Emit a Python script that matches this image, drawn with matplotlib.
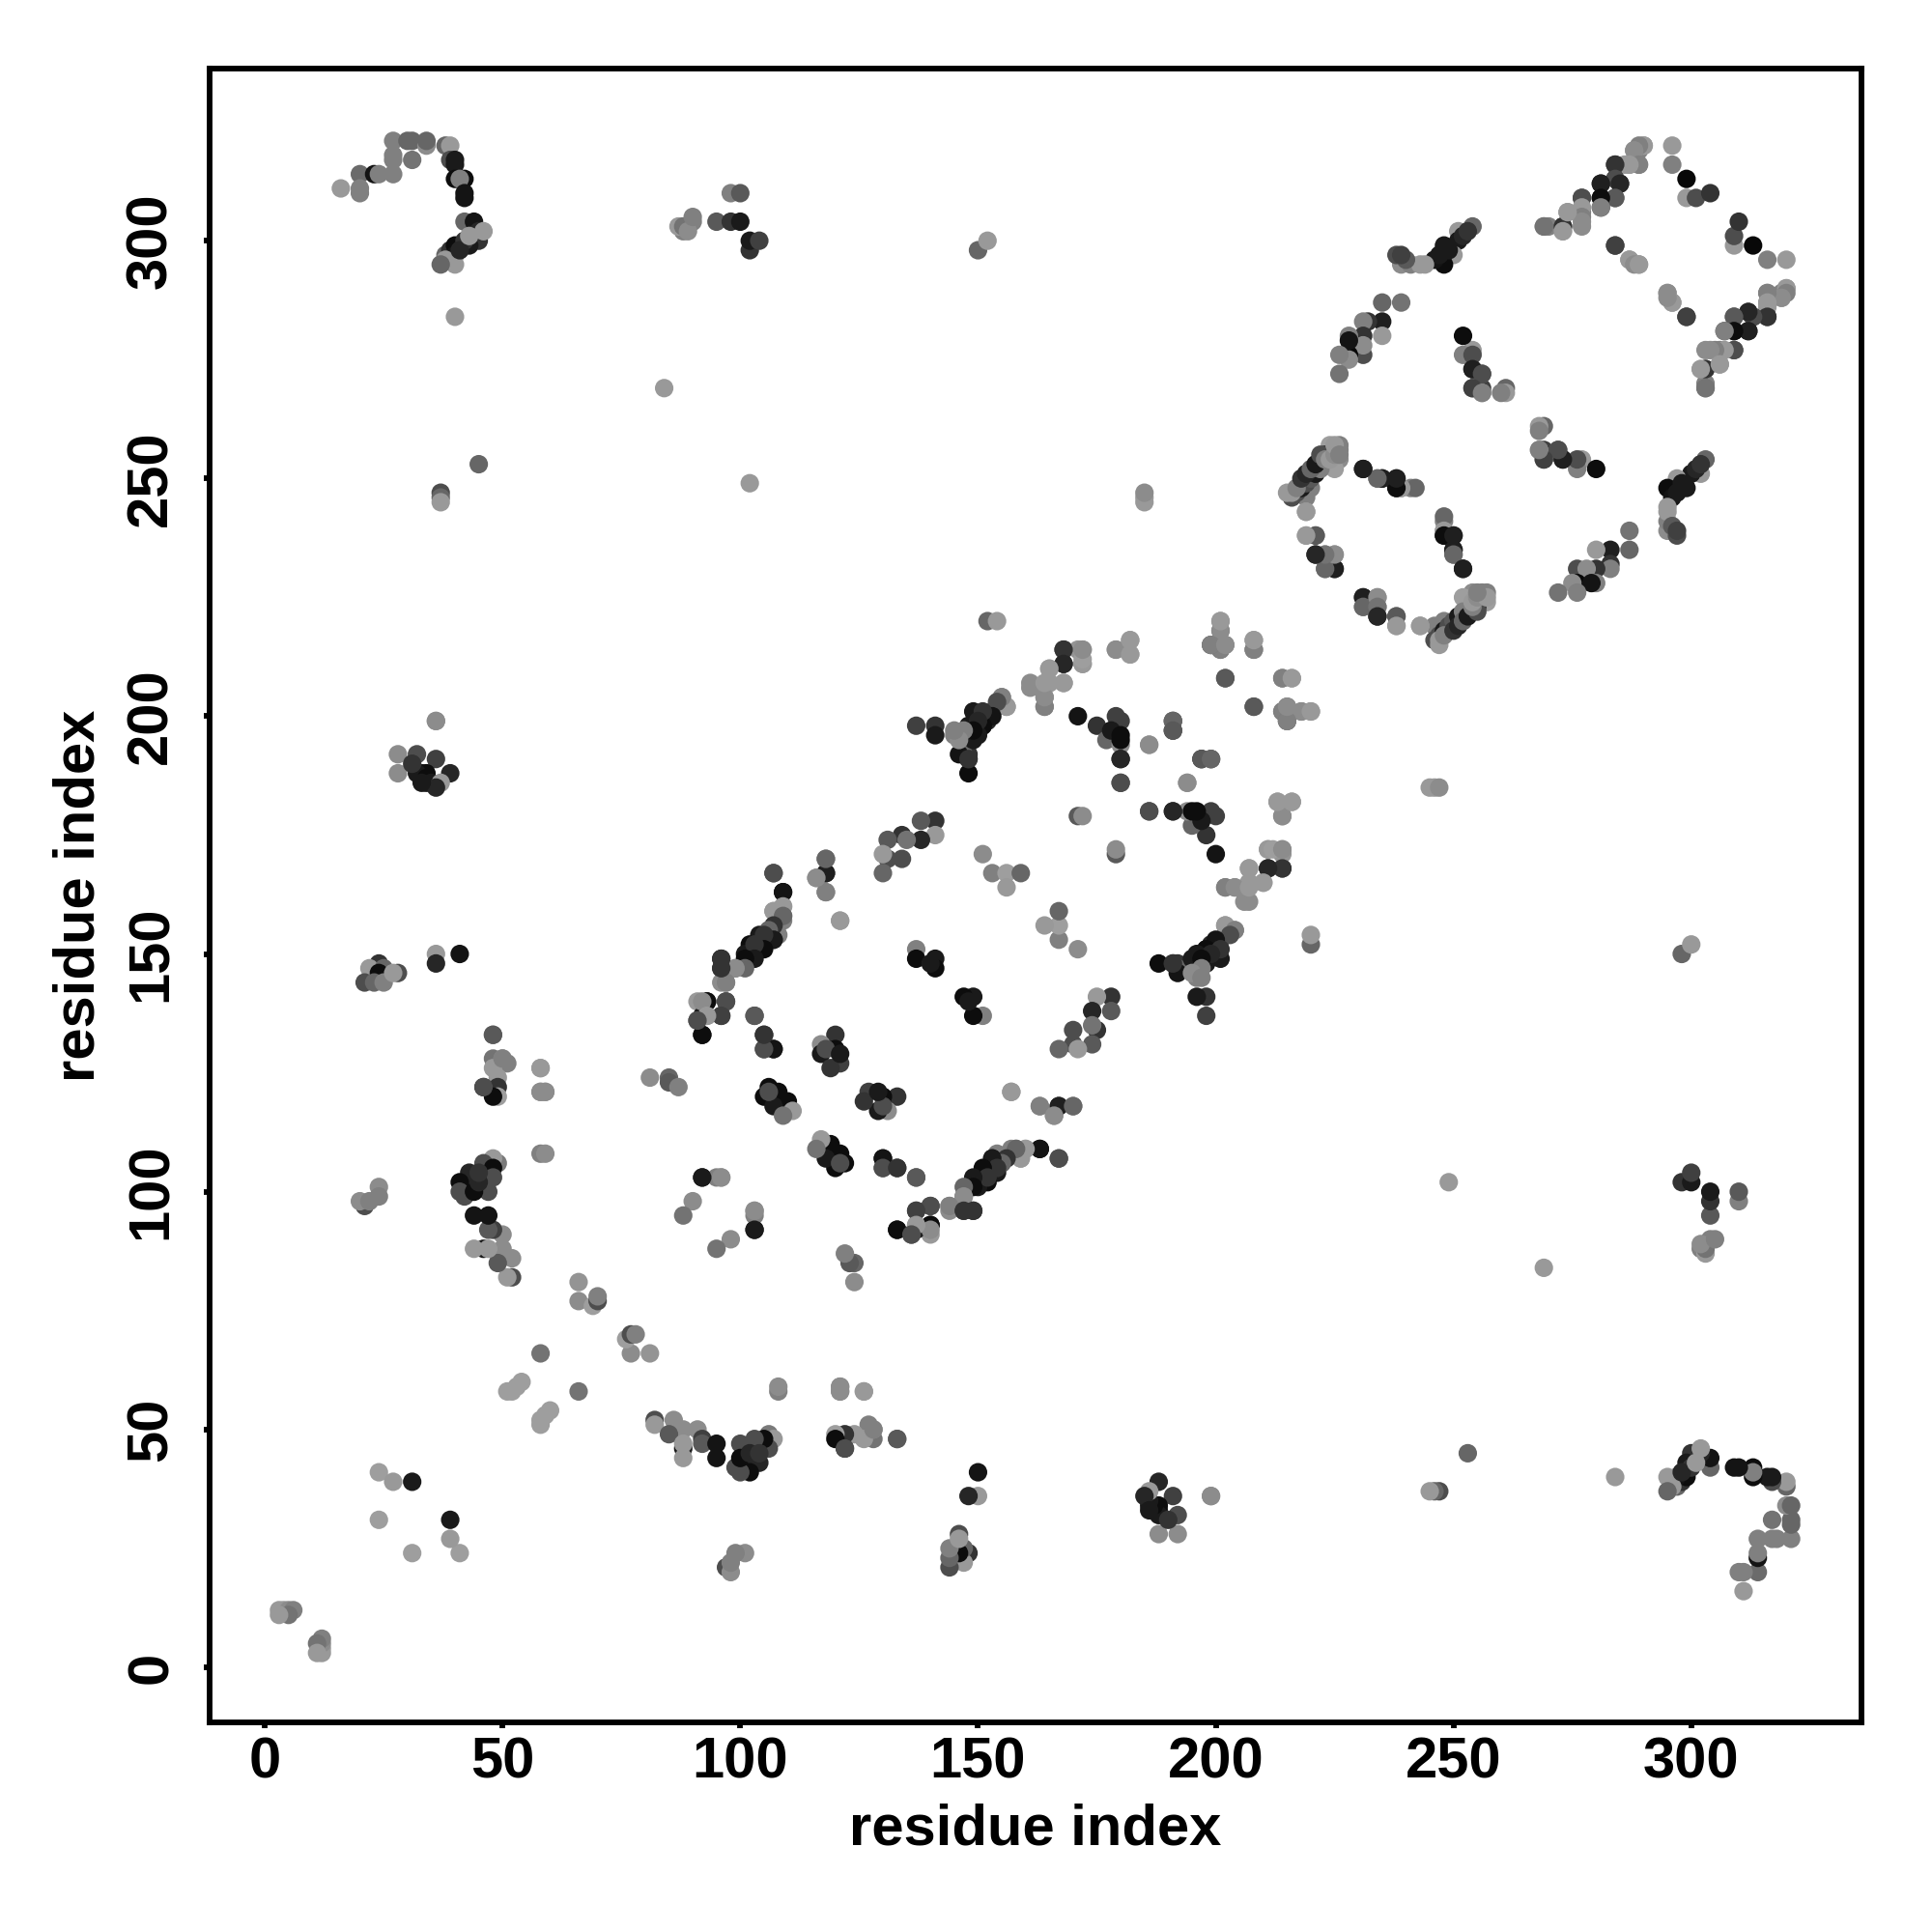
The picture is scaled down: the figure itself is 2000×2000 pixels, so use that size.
"""Residue contact map, drawn symmetric about the diagonal."""

import matplotlib
matplotlib.use("Agg")
import matplotlib.pyplot as plt

plt.rcParams["font.family"] = ["Liberation Sans", "DejaVu Sans"]

# each contact is (residue i, residue j, grey level), with i < j
near_diagonal = [
    (3, 12, .6), (4, 12, .6), (5, 12, .55), (6, 12, .5), (5, 11, .45), (3, 11, .6),
    (24, 41, .62), (27, 39, .6), (31, 39, .1), (24, 31, .62),
    (58, 66, .45), (66, 81, .58), (66, 77, .55), (69, 76, .62), (70, 77, .3), (70, 78, .5),
    (51, 58, .62), (52, 58, .62), (53, 59, .62), (54, 60, .62),
]
loop_a = [
    (16, 311, .6), (20, 314, .42), (20, 310, .5), (20, 311, .5), (23, 314, .08), (24, 314, .5),
    (27, 314, .5), (27, 317, .5), (27, 318, .5), (27, 321, .5), (31, 317, .45), (30, 321, .4),
    (31, 321, .4), (34, 320, .55), (34, 321, .4), (38, 320, .4), (39, 320, .6), (39, 317, .3),
    (40, 317, .1), (40, 316, .1), (40, 313, .05), (42, 313, .05), (41, 313, .5), (42, 310, .08),
    (42, 309, .08), (42, 304, .4), (44, 304, .08), (38, 297, .4), (39, 296, .1), (39, 298, .2),
    (41, 299, .1), (42, 299, .15), (43, 300, .2), (44, 300, .1), (44, 301, .3), (45, 302, .15),
    (45, 300, .2), (43, 299, .1), (40, 299, .05),
    (40, 297, .08), (40, 295, .6), (38, 296, .6), (37, 295, .4), (42, 300, .2), (41, 298, .15),
    (43, 301, .6), (46, 302, .6), (40, 284, .6), (84, 269, .6), (37, 247, .3), (37, 246, .4),
    (37, 245, .6), (45, 253, .4),
]
sheet_a = [
    (52, 82, .3), (51, 82, .6), (52, 86, .55), (50, 91, .55), (50, 88, .55), (49, 85, .35),
    (46, 88, .1), (44, 88, .6), (47, 88, .6), (48, 92, .25), (47, 92, .35), (44, 95, .08),
    (47, 95, .08), (49, 106, .48), (48, 107, .6), (46, 106, .3), (48, 105, .05), (48, 103, .3),
    (47, 100, .3), (43, 104, .15), (42, 101, .15), (41, 102, .05), (41, 100, .3), (42, 99, .3),
    (44, 100, .05), (45, 102, .15), (45, 104, .2), (24, 101, .55), (24, 99, .5), (21, 97, .3),
    (20, 98, .55), (22, 98, .5), (58, 108, .5), (59, 108, .55), (58, 126, .62), (58, 121, .55),
    (59, 121, .55), (48, 133, .4), (48, 128, .45), (50, 128, .55), (51, 127, .5), (48, 126, .6),
    (49, 124, .6), (46, 122, .18), (49, 122, .2), (49, 120, .62), (48, 120, .05),
    (48, 133, .35), (50, 128, .5), (46, 122, .3),
    (58, 121, .55), (59, 121, .55), (58, 126, .6),
]
sheet_b = [
    (24, 148, .2), (22, 147, .6), (25, 147, .4), (24, 146, .05), (21, 144, .3), (23, 144, .4),
    (25, 144, .5), (28, 146, .3), (27, 146, .6), (36, 150, .6), (36, 148, .15), (41, 150, .08),
    (28, 192, .55), (32, 192, .3), (36, 199, .55), (36, 191, .25), (28, 188, .55), (39, 188, .15),
    (33, 188, .1), (34, 188, .05), (34, 186, .1),
    (32, 188, .1), (34, 187, .05), (35, 186, .1), (37, 186, .6), (36, 185, .15), (33, 186, .1),
    (36, 199, .55), (31, 190, .2),
]
sheet_c = [
    (88, 302, .5), (89, 303, .5), (90, 304, .5), (87, 303, .6), (88, 303, .45), (89, 302, .55),
    (90, 305, .5), (95, 304, .35), (98, 310, .5), (100, 310, .35),
    (98, 304, .2), (100, 304, .1), (102, 298, .2), (102, 300, .1), (104, 300, .25),
    (150, 298, .4), (152, 300, .6), (102, 249, .6), (185, 245, .6), (185, 246, .6), (185, 247, .55),
    (152, 220, .4), (154, 220, .6),
]
strand_upper = [
    (107, 167, .3), (109, 163, .1), (109, 160, .62), (107, 159, .62), (109, 158, .4), (109, 157, .5),
    (107, 155, .1), (106, 155, .4), (104, 154, .1), (108, 154, .5), (107, 153, .1), (102, 152, .05),
    (105, 152, .1), (103, 150, .05), (101, 150, .1), (101, 148, .3), (99, 147, .5), (96, 149, .15),
    (96, 147, .25), (96, 144, .55), (97, 144, .55), (93, 140, .05), (97, 140, .3), (91, 140, .6),
    (96, 137, .25), (93, 137, .55), (92, 137, .1), (91, 136, .3), (92, 133, .05),
    (103, 137, .35), (105, 133, .15), (105, 130, .3), (107, 130, .08),
    (118, 170, .45), (118, 167, .12), (116, 166, .55), (118, 163, .5), (121, 157, .6),
]
strand_cross = [
    (120, 133, .2), (117, 131, .55), (120, 130, .05), (117, 129, .1), (121, 127, .25), (119, 126, .2),
    (118, 130, .3), (121, 129, .1),
    (106, 122, .05), (108, 121, .05), (105, 120, .05), (110, 119, .05), (107, 118, .1),
    (111, 117, .6), (109, 116, .45), (106, 121, .3),
    (121, 157, .6), (118, 163, .5), (118, 167, .12), (118, 170, .4), (116, 166, .55),
    (109, 163, .08), (107, 167, .3), (109, 160, .6), (107, 159, .6),
    (109, 158, .4), (107, 156, .2), (106, 155, .4), (107, 153, .1), (105, 154, .2),
    (105, 151, .05), (103, 152, .2), (103, 149, .1), (101, 149, .05), (101, 147, .4), (99, 147, .55),
    (97, 144, .5), (96, 147, .2), (96, 149, .2), (97, 140, .3), (96, 137, .25),
    (93, 140, .05), (92, 140, .55), (93, 137, .6), (92, 133, .05), (91, 136, .3),
    (103, 137, .35), (107, 130, .08), (105, 130, .3), (105, 133, .2),
    (90, 98, .55), (88, 95, .45), (92, 103, .1), (95, 103, .5), (96, 103, .55), (96, 103, .55),
    (92, 103, .1), (81, 124, .55), (85, 124, .4), (85, 123, .35), (87, 122, .5),
]
hairpin = [
    (141, 178, .2), (138, 178, .35), (141, 175, .6), (138, 174, .15), (134, 175, .2), (135, 174, .45),
    (131, 174, .35), (134, 170, .3), (131, 170, .3), (130, 171, .6), (130, 167, .4),
    (151, 171, .55), (153, 167, .5), (156, 167, .62), (159, 167, .4), (156, 164, .6),
    (137, 151, .5), (137, 149, .05), (141, 149, .1), (141, 147, .05), (140, 148, .1),
    (180, 186, .3), (171, 179, .35), (172, 179, .55), (148, 188, .05),
]
strand_mid = [
    (155, 204, .5), (156, 202, .55), (149, 201, .1), (151, 200, .1), (148, 198, .1), (151, 198, .1),
    (148, 196, .6), (148, 192, .2), (148, 191, .2), (147, 192, .4), (145, 196, .5), (149, 195, .1),
    (137, 198, .25), (141, 198, .2), (141, 196, .1), (152, 199, .15), (150, 197, .05), (153, 201, .4),
    (161, 207, .55), (164, 202, .5), (164, 204, .55), (165, 210, .6), (165, 207, .62),
    (168, 214, .25), (168, 211, .2), (168, 207, .6), (172, 214, .6), (172, 211, .6), (171, 214, .58),
    (179, 214, .55), (182, 216, .62), (182, 213, .62),
    (171, 200, .08), (175, 198, .2), (179, 200, .25), (180, 199, .25), (177, 195, .4), (178, 197, .1),
    (180, 196, .05), (180, 194, .55), (180, 195, .05), (180, 191, .15), (186, 194, .58),
    (191, 199, .4), (191, 197, .3), (197, 191, .35), (191, 199, .4),
    (201, 220, .6), (201, 218, .5), (199, 215, .45), (202, 215, .55), (201, 214, .5), (202, 208, .35),
    (208, 216, .6), (208, 214, .45), (202, 208, .35), (208, 214, .5), (208, 216, .6),
    (201, 214, .5), (199, 215, .45), (201, 218, .55), (201, 220, .6), (199, 215, .5), (202, 215, .55),
    (191, 197, .35), (191, 199, .4), (186, 194, .55), (180, 186, .3), (180, 191, .15),
    (179, 214, .55), (182, 213, .6), (182, 216, .6), (172, 211, .6), (172, 212, .62), (172, 214, .55),
    (168, 214, .2), (168, 211, .15), (168, 207, .6), (165, 207, .6), (165, 210, .6),
    (164, 202, .5), (164, 204, .55), (161, 206, .55), (164, 207, .6),
    (156, 202, .6), (155, 204, .5), (154, 203, .3), (153, 200, .08), (151, 198, .05), (151, 201, .2),
    (150, 196, .1), (149, 198, .1), (150, 199, .15), (149, 197, .05), (147, 197, .5), (146, 192, .08),
    (146, 195, .55), (145, 197, .5), (148, 191, .2),
]
ring_a = [
    (226, 257, .5), (224, 257, .62), (226, 254, .55), (225, 252, .62), (223, 255, .2), (222, 253, .35),
    (220, 251, .3), (218, 249, .1), (220, 248, .5), (219, 246, .5), (216, 246, .3), (215, 247, .6),
    (219, 243, .6), (219, 238, .62), (221, 238, .4), (221, 234, .15), (223, 234, .5), (225, 234, .55),
    (223, 231, .45), (225, 231, .12), (231, 252, .12), (234, 250, .5), (235, 250, .12), (238, 250, .15),
    (238, 248, .1), (239, 248, .6), (241, 248, .5), (242, 248, .4),
    (239, 248, .6), (238, 248, .05), (238, 250, .12), (235, 250, .12), (234, 250, .4), (231, 252, .12),
    (225, 231, .12), (223, 231, .4), (225, 234, .55), (223, 234, .45), (221, 234, .15), (221, 238, .35),
    (219, 238, .6), (219, 243, .6),
    (217, 247, .3), (218, 248, .1), (219, 249, .3), (220, 250, .35), (221, 251, .1), (222, 252, .5),
    (216, 247, .6), (217, 248, .5), (218, 250, .2), (219, 251, .15), (220, 252, .4), (221, 253, .1),
    (222, 255, .3), (223, 254, .5), (224, 254, .6), (225, 255, .55), (226, 256, .5), (225, 257, .6),
    (226, 255, .5),
]
ring_b = [
    (261, 269, .4), (261, 268, .6), (256, 269, .25), (254, 269, .3), (256, 268, .6), (256, 272, .4),
    (254, 273, .05), (254, 277, .6), (252, 276, .5), (252, 280, .05), (254, 276, .3),
    (239, 287, .45), (235, 287, .4), (235, 283, .12), (235, 280, .6), (232, 283, .2), (231, 283, .5),
    (231, 280, .2), (231, 276, .3), (231, 278, .55), (228, 276, .03), (228, 275, .55), (228, 280, .5),
    (228, 279, .08), (226, 276, .5), (226, 272, .45),
    (254, 303, .4), (251, 302, .6), (251, 300, .1), (248, 299, .1), (250, 297, .6), (248, 295, .05),
    (246, 296, .08), (247, 297, .1), (249, 298, .1), (252, 301, .15), (253, 302, .2), (244, 295, .6),
    (239, 295, .55), (238, 297, .3), (241, 295, .5), (243, 295, .6), (240, 296, .35), (239, 297, .25),
]
ring_c = [
    (290, 320, .62), (289, 319, .5), (288, 319, .6), (289, 316, .5), (287, 316, .55), (286, 316, .6),
    (284, 316, .2), (285, 312, .15), (284, 313, .2), (281, 312, .1), (281, 309, .05), (284, 309, .35),
    (281, 307, .3), (277, 309, .3), (277, 306, .5), (277, 303, .55), (274, 306, .6), (273, 303, .2),
    (273, 302, .6), (270, 303, .5), (269, 303, .45), (284, 299, .25), (287, 296, .6), (289, 295, .55),
    (296, 320, .6), (296, 316, .5), (299, 313, .03), (299, 309, .6), (301, 309, .3), (304, 310, .2),
    (295, 289, .6), (287, 296, .6), (288, 295, .55), (284, 299, .25),
    (290, 320, .6), (289, 320, .5), (288, 319, .55), (289, 316, .5), (287, 316, .6), (284, 316, .2),
    (284, 313, .3), (285, 312, .15), (284, 309, .35), (281, 312, .12), (281, 309, .05), (281, 307, .5),
    (277, 309, .3), (277, 307, .6), (277, 305, .5), (277, 304, .55), (273, 303, .2), (273, 302, .6),
    (274, 306, .6), (269, 303, .45), (254, 273, .12), (256, 272, .3), (254, 269, .25), (256, 268, .5),
    (260, 268, .5),
]
# the repeated (i, j) pairs above keep the overlaps of the dense clusters

contacts = (
    near_diagonal + loop_a + sheet_a + sheet_b + sheet_c + strand_upper + strand_cross
    + hairpin + strand_mid + ring_a + ring_b + ring_c
)
residue_i = [c[0] for c in contacts]
residue_j = [c[1] for c in contacts]
grey = [str(c[2]) for c in contacts]

xticks = [0, 50, 100, 150, 200, 250, 300]
yticks = [0, 50, 100, 150, 200, 250, 300]

fig = plt.figure(figsize=(20, 20), dpi=100)
ax = fig.add_axes([217 / 2000, 1 - 1783 / 2000, 1710 / 2000, 1712 / 2000])

ax.scatter(residue_i + residue_j, residue_j + residue_i, s=190, c=grey + grey, linewidths=0)

ax.set_xlim(-11.6, 335.8)
ax.set_ylim(-11.6, 336.2)
ax.set_xticks(xticks)
ax.set_yticks(yticks)
ax.tick_params(width=4.2, length=4.3, labelsize=43)
ax.tick_params(axis="x", pad=6)
ax.tick_params(axis="y", pad=19)
for label in ax.get_xticklabels() + ax.get_yticklabels():
    label.set_fontweight("bold")
for label in ax.get_yticklabels():
    label.set_rotation(90)
    label.set_verticalalignment("center")
for spine in ax.spines.values():
    spine.set_linewidth(4.2)
ax.set_xlabel("residue index", fontsize=43, fontweight="bold", labelpad=10)
ax.set_ylabel("residue index", fontsize=43, fontweight="bold", labelpad=14.5)

fig.savefig("out.png", dpi=100)
plt.close(fig)
